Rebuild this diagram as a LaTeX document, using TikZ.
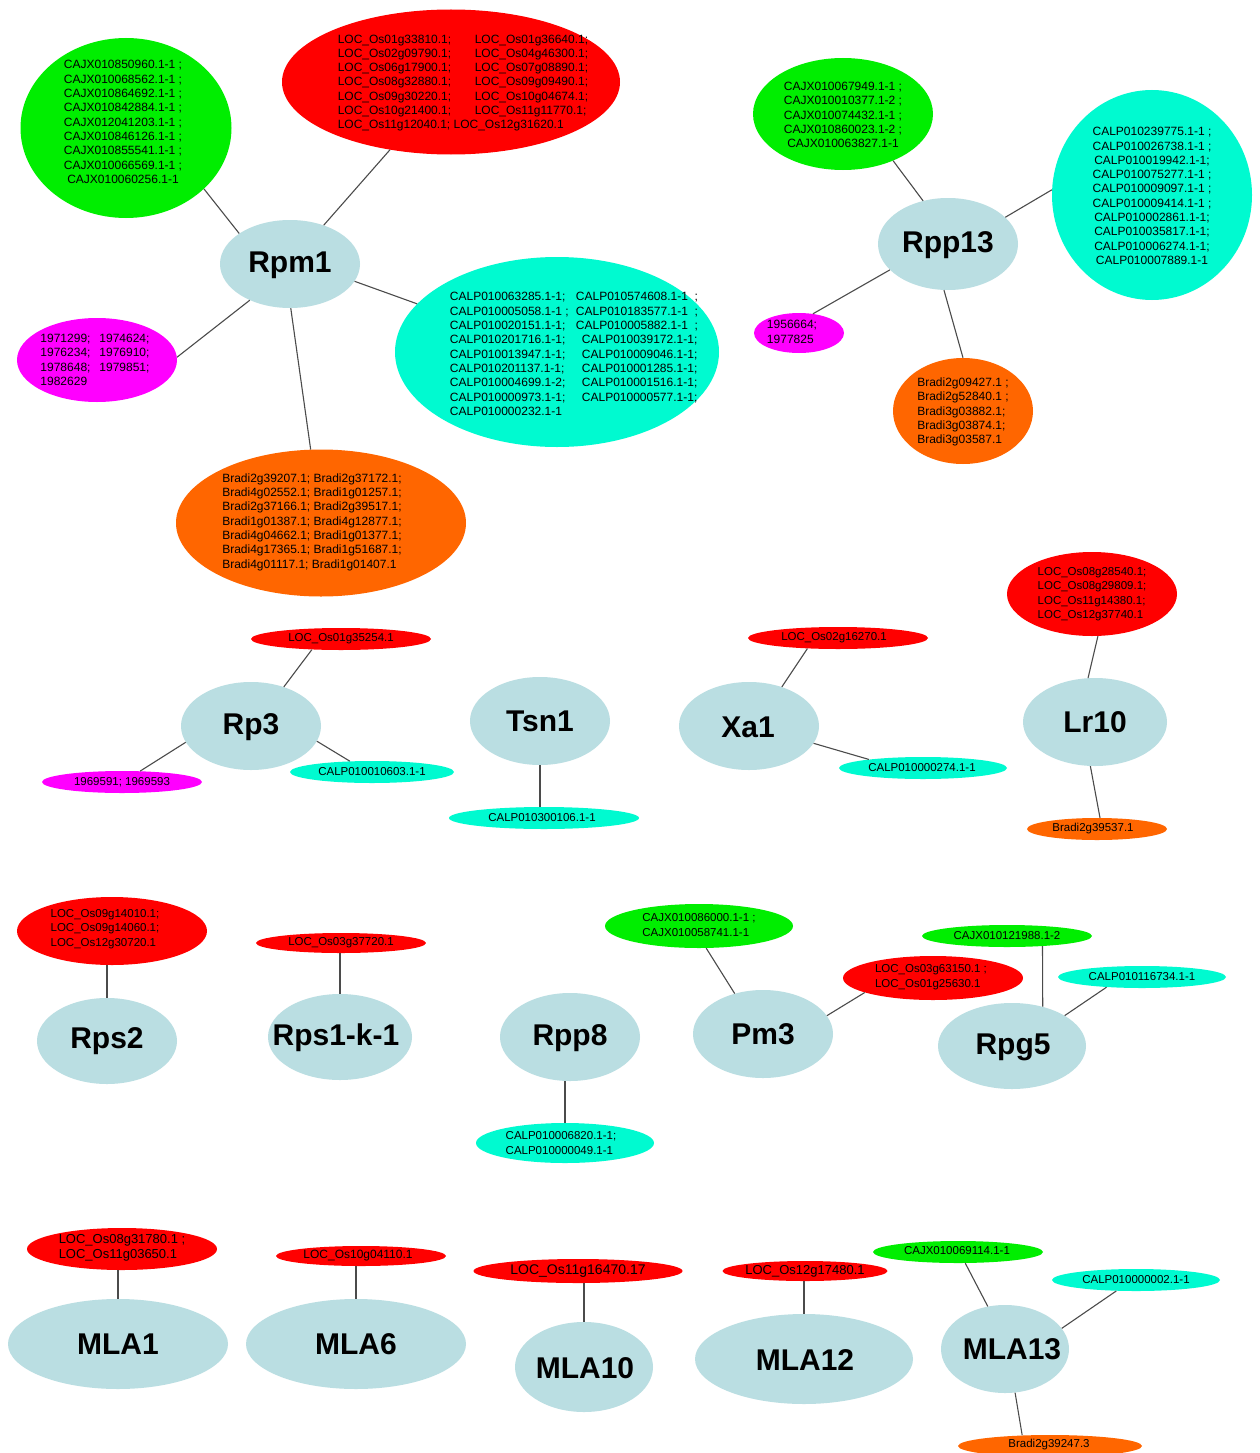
\documentclass[tikz,border=0pt]{standalone}
\usepackage{fontspec}
\setmainfont{Liberation Sans}
\usetikzlibrary{shapes.geometric}
\definecolor{cgreen}{RGB}{0,238,0}
\definecolor{cred}{RGB}{255,0,0}
\definecolor{ccyan}{RGB}{0,250,208}
\definecolor{cmag}{RGB}{255,0,255}
\definecolor{corange}{RGB}{255,102,0}
\definecolor{chub}{RGB}{186,222,226}
\definecolor{cedge}{RGB}{75,75,75}
\begin{document}
\begin{tikzpicture}[x=1pt,y=-1pt,
  ell/.style n args={3}{ellipse, fill=#1, draw=none, inner sep=0pt, minimum width=#2 pt, minimum height=#3 pt},
  hub/.style 2 args={ell={chub}{#1}{#2}},
  hl/.style={inner sep=0pt, font=\fontsize{30}{34}\selectfont\bfseries},
  gt/.style={inner sep=0pt, align=left, font=\fontsize{12}{14.3}\selectfont},
  gc/.style={inner sep=0pt, align=center, font=\fontsize{12}{14.3}\selectfont},
  gs/.style={inner sep=0pt, align=left, font=\fontsize{#1}{14.5}\selectfont},
  edge/.style={draw=cedge, line width=1.1pt}]
\fill[white] (0,0) rectangle (1259,1453);
\useasboundingbox (0,0) rectangle (1259,1453);

% ---------------- Rpm1 cluster
\node[hub={140}{88}] (rpm1) at (290,264) {};
\node[ell={cgreen}{211}{180}] (rpm1g) at (126,128) {};
\node[ell={cred}{338}{145}] (rpm1r) at (451,82) {};
\node[ell={ccyan}{324}{190}] (rpm1c) at (557,352) {};
\node[ell={cmag}{160}{84}] (rpm1m) at (97,360) {};
\node[ell={corange}{290}{147}] (rpm1o) at (321,523) {};
\draw[edge] (rpm1.149) -- (rpm1g.-38);
\draw[edge] (rpm1.49) -- (rpm1r.-132);
\draw[edge] (rpm1.-15) -- (rpm1c.161);
\draw[edge] (rpm1.-138) -- (rpm1m.2);
\draw[edge] (rpm1.-89) -- (rpm1o.98);
\node[hl] (rpm1t) at (290,265) {Rpm1};
\node[gc] (rpm1gt) at (123,122) {CAJX010850960.1-1 ;\\CAJX010068562.1-1 ;\\CAJX010864692.1-1 ;\\CAJX010842884.1-1 ;\\CAJX012041203.1-1 ;\\CAJX010846126.1-1 ;\\CAJX010855541.1-1 ;\\CAJX010066569.1-1 ;\\CAJX010060256.1-1};
\node[gt] (rpm1rt) at (463,83) {\makebox[137pt][l]{LOC\_Os01g33810.1;}LOC\_Os01g36640.1;\\
\makebox[137pt][l]{LOC\_Os02g09790.1;}LOC\_Os04g46300.1;\\
\makebox[137pt][l]{LOC\_Os06g17900.1;}LOC\_Os07g08890.1;\\
\makebox[137pt][l]{LOC\_Os08g32880.1;}LOC\_Os09g09490.1;\\
\makebox[137pt][l]{LOC\_Os09g30220.1;}LOC\_Os10g04674.1;\\
\makebox[137pt][l]{LOC\_Os10g21400.1;}LOC\_Os11g11770.1;\\
LOC\_Os11g12040.1; LOC\_Os12g31620.1};
\node[gt] (rpm1ct) at (574,354) {\makebox[126pt][l]{CALP010063285.1-1;}CALP010574608.1-1\ \ ;\\
\makebox[126pt][l]{CALP010005058.1-1 ;}CALP010183577.1-1\ \ ;\\
\makebox[126pt][l]{CALP010020151.1-1;}CALP010005882.1-1\ \ ;\\
\makebox[132pt][l]{CALP010201716.1-1;}CALP010039172.1-1;\\
\makebox[132pt][l]{CALP010013947.1-1;}CALP010009046.1-1;\\
\makebox[132pt][l]{CALP010201137.1-1;}CALP010001285.1-1;\\
\makebox[132pt][l]{CALP010004699.1-2;}CALP010001516.1-1;\\
\makebox[132pt][l]{CALP010000973.1-1;}CALP010000577.1-1;\\
CALP010000232.1-1};
\node[gt] (rpm1mt) at (95,360) {\makebox[59pt][l]{1971299;}1974624;\\\makebox[59pt][l]{1976234;}1976910;\\\makebox[59pt][l]{1978648;}1979851;\\1982629};
\node[gt] (rpm1ot) at (312,522) {Bradi2g39207.1; Bradi2g37172.1;\\Bradi4g02552.1; Bradi1g01257.1;\\Bradi2g37166.1; Bradi2g39517.1;\\Bradi1g01387.1; Bradi4g12877.1;\\Bradi4g04662.1; Bradi1g01377.1;\\Bradi4g17365.1; Bradi1g51687.1;\\Bradi4g01117.1; Bradi1g01407.1};

% ---------------- Rpp13 cluster
\node[hub={140}{92}] (rpp13) at (948,244) {};
\node[ell={cgreen}{180}{112}] (rpp13g) at (843,114) {};
\node[ell={ccyan}{200}{210}] (rpp13c) at (1152,195) {};
\node[ell={cmag}{90}{40}] (rpp13m) at (799,333) {};
\node[ell={corange}{140}{106}] (rpp13o) at (963,411) {};
\draw[edge] (rpp13.120) -- (rpp13g.-43);
\draw[edge] (rpp13.25) -- (rpp13c.177);
\draw[edge] (rpp13.-156) -- (rpp13m.54);
\draw[edge] (rpp13.-95) -- (rpp13o.90);
\node[hl] (rpp13t) at (948,245) {Rpp13};
\node[gc] (rpp13gt) at (843,115) {CAJX010067949.1-1 ;\\CAJX010010377.1-2 ;\\CAJX010074432.1-1 ;\\CAJX010860023.1-2 ;\\CAJX010063827.1-1};
\node[gc] (rpp13ct) at (1152,196) {CALP010239775.1-1 ;\\CALP010026738.1-1 ;\\CALP010019942.1-1;\\CALP010075277.1-1 ;\\CALP010009097.1-1 ;\\CALP010009414.1-1 ;\\CALP010002861.1-1;\\CALP010035817.1-1;\\CALP010006274.1-1;\\CALP010007889.1-1};
\node[gt] (rpp13mt) at (792,332) {1956664;\\1977825};
\node[gt] (rpp13ot) at (963,412) {Bradi2g09427.1 ;\\Bradi2g52840.1 ;\\Bradi3g03882.1;\\Bradi3g03874.1;\\Bradi3g03587.1};

% ---------------- Row 2
\node[hub={140}{88}] (rp3) at (251,726) {};
\node[ell={cred}{180}{22}] (rp3r) at (341,639) {};
\node[ell={cmag}{160}{22}] (rp3m) at (122,782) {};
\node[ell={ccyan}{164}{22}] (rp3c) at (372,772) {};
\draw[edge] (rp3.50) -- (rp3r.-160);
\draw[edge] (rp3.-166) -- (rp3m.31);
\draw[edge] (rp3.-13) -- (rp3c.154);
\node[hl] (rp3t) at (251,727) {Rp3};
\node[gs=11.5] (rp3rt) at (341,639) {LOC\_Os01g35254.1};
\node[gs=11.5] (rp3mt) at (122,782) {1969591; 1969593};
\node[gs=11.5] (rp3ct) at (372,772) {CALP010010603.1-1};

\node[hub={140}{88}] (tsn1) at (540,721) {};
\node[ell={ccyan}{190}{22}] (tsn1c) at (544,818) {};
\draw[edge] (tsn1) -- (tsn1 |- tsn1c.north);
\node[hl] (tsn1t) at (540,721) {Tsn1};
\node[gs=11.5] (tsn1ct) at (542,818) {CALP010300106.1-1};

\node[hub={140}{88}] (xa1) at (749,726) {};
\node[ell={cred}{180}{22}] (xa1r) at (838,638) {};
\node[ell={ccyan}{168}{22}] (xa1c) at (923,768) {};
\draw[edge] (xa1.50) -- (xa1r.-161);
\draw[edge] (xa1.-15) -- (xa1c.171);
\node[hl] (xa1t) at (748,727) {Xa1};
\node[gs=11.5] (xa1rt) at (834,638) {LOC\_Os02g16270.1};
\node[gs=11.5] (xa1ct) at (922,768) {CALP010000274.1-1};

\node[hub={144}{88}] (lr10) at (1095,722) {};
\node[ell={cred}{170}{84}] (lr10r) at (1092,594) {};
\node[ell={corange}{140}{22}] (lr10o) at (1097,829) {};
\draw[edge] (lr10.99) -- (lr10r.-82);
\draw[edge] (lr10.-96) -- (lr10o.75);
\node[hl] (lr10t) at (1095,722) {Lr10};
\node[gs=11.5] (lr10rt) at (1092,594) {LOC\_Os08g28540.1;\\LOC\_Os08g29809.1;\\LOC\_Os11g14380.1;\\LOC\_Os12g37740.1};
\node[gs=11.5] (lr10ot) at (1093,829) {Bradi2g39537.1};

% ---------------- Row 3
\node[hub={140}{86}] (rps2) at (107,1041) {};
\node[ell={cred}{190}{68}] (rps2r) at (112,931) {};
\draw[edge] (rps2) -- (rps2 |- rps2r.south);
\node[hl] (rps2t) at (107,1041) {Rps2};
\node[gs=11.5] (rps2rt) at (105,929) {LOC\_Os09g14010.1;\\LOC\_Os09g14060.1;\\LOC\_Os12g30720.1};

\node[hub={144}{86}] (rps1) at (340,1037) {};
\node[ell={cred}{170}{20}] (rps1r) at (341,943) {};
\draw[edge] (rps1) -- (rps1 |- rps1r.south);
\node[hl] (rps1t) at (336,1038) {Rps1-k-1};
\node[gs=11.5] (rps1rt) at (341,943) {LOC\_Os03g37720.1};

\node[hub={140}{88}] (rpp8) at (570,1037) {};
\node[ell={ccyan}{178}{40}] (rpp8c) at (565,1143) {};
\draw[edge] (rpp8c) -- (rpp8c |- rpp8.south);
\node[hl] (rpp8t) at (570,1038) {Rpp8};
\node[gs=11.5] (rpp8ct) at (561,1143) {CALP010006820.1-1;\\CALP010000049.1-1};

\node[hub={140}{88}] (pm3) at (763,1034) {};
\node[ell={cgreen}{188}{44}] (pm3g) at (699,926) {};
\node[ell={cred}{180}{44}] (pm3r) at (933,978) {};
\draw[edge] (pm3.125) -- (pm3g.-72);
\draw[edge] (pm3.16) -- (pm3r.-168);
\node[hl] (pm3t) at (763,1034) {Pm3};
\node[gs=11.5] (pm3gt) at (699,925) {CAJX010086000.1-1 ;\\CAJX010058741.1-1};
\node[gs=11.5] (pm3rt) at (931,977) {LOC\_Os03g63150.1 ;\\LOC\_Os01g25630.1};

\node[hub={148}{86}] (rpg5) at (1012,1046) {};
\node[ell={cgreen}{170}{22}] (rpg5g) at (1007,936) {};
\node[ell={ccyan}{168}{22}] (rpg5c) at (1142,977) {};
\draw[edge] (rpg5.52) -- (rpg5g.-16);
\draw[edge] (rpg5.30) -- (rpg5c.-164);
\node[hl] (rpg5t) at (1013,1047) {Rpg5};
\node[gs=11.5] (rpg5gt) at (1007,936) {CAJX010121988.1-2};
\node[gs=11.5] (rpg5ct) at (1142,977) {CALP010116734.1-1};

% ---------------- Row 4
\node[hub={220}{90}] (mla1) at (118,1344) {};
\node[ell={cred}{190}{42}] (mla1r) at (122,1249) {};
\draw[edge] (mla1) -- (mla1 |- mla1r.south);
\node[hl] (mla1t) at (118,1344) {MLA1};
\node[gs=13] (mla1rt) at (122,1248) {LOC\_Os08g31780.1 ;\\LOC\_Os11g03650.1};

\node[hub={220}{90}] (mla6) at (356,1344) {};
\node[ell={cred}{170}{20}] (mla6r) at (361,1256) {};
\draw[edge] (mla6) -- (mla6 |- mla6r.south);
\node[hl] (mla6t) at (356,1344) {MLA6};
\node[gs=12] (mla6rt) at (358,1256) {LOC\_Os10g04110.1};

\node[hub={138}{90}] (mla10) at (584,1367) {};
\node[ell={cred}{209}{24}] (mla10r) at (578,1271) {};
\draw[edge] (mla10) -- (mla10 |- mla10r.south);
\node[hl] (mla10t) at (585,1368) {MLA10};
\node[gs=14] (mla10rt) at (578,1271) {LOC\_Os11g16470.17};

\node[hub={218}{90}] (mla12) at (804,1359) {};
\node[ell={cred}{165}{20}] (mla12r) at (805,1271) {};
\draw[edge] (mla12) -- (mla12 |- mla12r.south);
\node[hl] (mla12t) at (805,1360) {MLA12};
\node[gs=13] (mla12rt) at (805,1271) {LOC\_Os12g17480.1};

\node[hub={128}{88}] (mla13) at (1005,1349) {};
\node[ell={cgreen}{170}{22}] (mla13g) at (958,1252) {};
\node[ell={ccyan}{168}{22}] (mla13c) at (1136,1280) {};
\node[ell={corange}{184}{22}] (mla13o) at (1050,1446) {};
\draw[edge] (mla13.112) -- (mla13g.-57);
\draw[edge] (mla13.20) -- (mla13c.-151);
\draw[edge] (mla13.-77) -- (mla13o.159);
\node[hl] (mla13t) at (1012,1349) {MLA13};
\node[gs=11.5] (mla13gt) at (957,1251) {CAJX010069114.1-1};
\node[gs=11.5] (mla13ct) at (1136,1280) {CALP010000002.1-1};
\node[gs=11.5] (mla13ot) at (1049,1445) {Bradi2g39247.3};
\end{tikzpicture}
\end{document}
